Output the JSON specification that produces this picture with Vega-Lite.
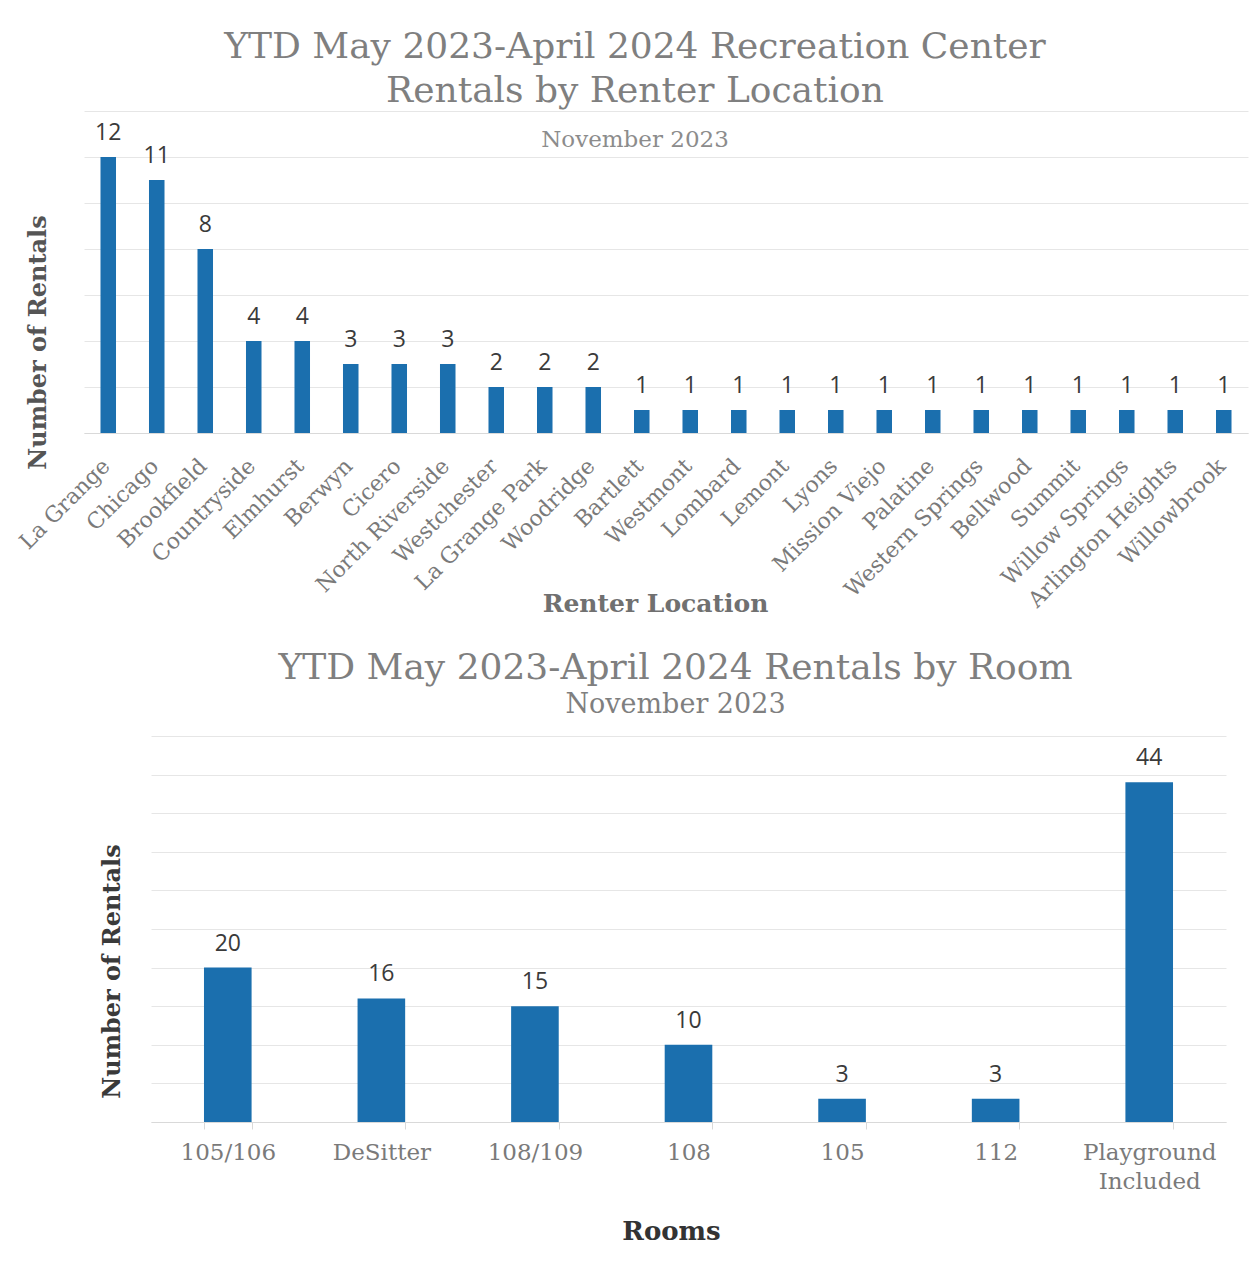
{
  "$schema": "https://vega.github.io/schema/vega-lite/v6.json",
  "padding": {"left": 15, "top": 29, "right": 5, "bottom": 5},
  "bounds": "flush",
  "spacing": 303,
  "config": {
    "view": {"stroke": null},
    "font": "DejaVu Serif",
    "axis": {"gridColor": "#e6e6e6", "domainColor": "#d9d9d9"}
  },
  "vconcat": [
    {
      "width": 1164,
      "height": 322,
      "title": {
        "text": ["YTD May 2023-April 2024 Recreation Center", "Rentals by Renter Location"],
        "subtitle": "November 2023",
        "font": "DejaVu Serif",
        "fontSize": 36,
        "fontWeight": "normal",
        "color": "#7f7f7f",
        "lineHeight": 44,
        "subtitleFont": "DejaVu Serif",
        "subtitleFontSize": 23,
        "subtitleColor": "#8c8c8c",
        "subtitlePadding": 19,
        "anchor": "middle",
        "frame": "group",
        "dx": -31,
        "offset": -42
      },
      "data": {
        "values": [
          {"location": "La Grange", "rentals": 12},
          {"location": "Chicago", "rentals": 11},
          {"location": "Brookfield", "rentals": 8},
          {"location": "Countryside", "rentals": 4},
          {"location": "Elmhurst", "rentals": 4},
          {"location": "Berwyn", "rentals": 3},
          {"location": "Cicero", "rentals": 3},
          {"location": "North Riverside", "rentals": 3},
          {"location": "Westchester", "rentals": 2},
          {"location": "La Grange Park", "rentals": 2},
          {"location": "Woodridge", "rentals": 2},
          {"location": "Bartlett", "rentals": 1},
          {"location": "Westmont", "rentals": 1},
          {"location": "Lombard", "rentals": 1},
          {"location": "Lemont", "rentals": 1},
          {"location": "Lyons", "rentals": 1},
          {"location": "Mission Viejo", "rentals": 1},
          {"location": "Palatine", "rentals": 1},
          {"location": "Western Springs", "rentals": 1},
          {"location": "Bellwood", "rentals": 1},
          {"location": "Summit", "rentals": 1},
          {"location": "Willow Springs", "rentals": 1},
          {"location": "Arlington Heights", "rentals": 1},
          {"location": "Willowbrook", "rentals": 1}
        ]
      },
      "encoding": {
        "x": {
          "field": "location", "type": "nominal", "sort": null,
          "scale": {"paddingInner": 0.68, "paddingOuter": 0.34},
          "axis": {
            "title": "Renter Location",
            "labelAngle": -45,
            "labelAlign": "right",
            "labelBaseline": "top",
            "labelFont": "DejaVu Serif",
            "labelFontSize": 22,
            "labelColor": "#7a7a7a",
            "labelPadding": 22,
            "labelOffset": -9,
            "labelLimit": 400,
            "ticks": false,
            "domainColor": "#d9d9d9",
            "titleFont": "DejaVu Serif",
            "titleFontSize": 25,
            "titleFontWeight": "bold",
            "titleColor": "#707070",
            "titleX": 571,
            "titleY": 170,
            "titleAlign": "center",
            "titleBaseline": "middle"
          }
        },
        "y": {
          "field": "rentals", "type": "quantitative",
          "scale": {"domain": [0, 14]},
          "axis": {
            "values": [0, 2, 4, 6, 8, 10, 12, 14],
            "labels": false, "ticks": false, "domain": false,
            "title": "Number of Rentals",
            "titleFont": "DejaVu Serif",
            "titleFontSize": 24,
            "titleFontWeight": "bold",
            "titleColor": "#555555",
            "titleAngle": -90,
            "titleX": -46,
            "titleY": 231,
            "titleAlign": "center",
            "titleBaseline": "middle"
          }
        }
      },
      "layer": [
        {"mark": {"type": "bar", "color": "#1b6fae"}},
        {
          "mark": {"type": "text", "font": "Open Sans", "fontSize": 23, "color": "#3a3a3a", "baseline": "alphabetic", "dy": -17},
          "encoding": {"text": {"field": "rentals", "type": "quantitative"}}
        }
      ]
    },
    {
      "bounds": "flush",
      "spacing": 0,
      "hconcat": [
        {
          "width": 67,
          "height": 386,
          "data": {"values": []},
          "mark": "rect",
          "encoding": {}
        },
        {
          "width": 1075,
          "height": 386,
          "title": {
            "text": "YTD May 2023-April 2024 Rentals by Room",
            "subtitle": "November 2023",
            "font": "DejaVu Serif",
            "fontSize": 36,
            "fontWeight": "normal",
            "color": "#7f7f7f",
            "subtitleFont": "DejaVu Serif",
            "subtitleFontSize": 27,
            "subtitleColor": "#7f7f7f",
            "subtitlePadding": 5,
            "anchor": "middle",
            "frame": "group",
            "dx": -13,
            "offset": 17
          },
          "data": {
            "values": [
              {"room": "105/106", "rentals": 20},
              {"room": "DeSitter", "rentals": 16},
              {"room": "108/109", "rentals": 15},
              {"room": "108", "rentals": 10},
              {"room": "105", "rentals": 3},
              {"room": "112", "rentals": 3},
              {"room": "Playground Included", "rentals": 44}
            ]
          },
          "encoding": {
            "x": {
              "field": "room", "type": "nominal", "sort": null,
              "scale": {"paddingInner": 0.69, "paddingOuter": 0.345},
              "axis": {
                "title": "Rooms",
                "labelAngle": 0,
                "labelExpr": "datum.label == 'Playground Included' ? ['Playground', 'Included'] : datum.label",
                "labelLineHeight": 29,
                "labelFont": "DejaVu Serif",
                "labelFontSize": 23,
                "labelColor": "#7a7a7a",
                "labelPadding": 12,
                "ticks": true,
                "tickBand": "extent",
                "tickSize": 7,
                "tickColor": "#d9d9d9",
                "domainColor": "#d9d9d9",
                "titleFont": "DejaVu Serif",
                "titleFontSize": 26,
                "titleFontWeight": "bold",
                "titleColor": "#333333",
                "titleX": 520,
                "titleY": 109,
                "titleAlign": "center",
                "titleBaseline": "middle"
              }
            },
            "y": {
              "field": "rentals", "type": "quantitative",
              "scale": {"domain": [0, 50]},
              "axis": {
                "values": [0, 5, 10, 15, 20, 25, 30, 35, 40, 45, 50],
                "labels": false, "ticks": false, "domain": false,
                "title": "Number of Rentals",
                "titleFont": "DejaVu Serif",
                "titleFontSize": 24,
                "titleFontWeight": "bold",
                "titleColor": "#3a3a3a",
                "titleAngle": -90,
                "titleX": -39,
                "titleY": 235,
                "titleAlign": "center",
                "titleBaseline": "middle"
              }
            }
          },
          "layer": [
            {"mark": {"type": "bar", "color": "#1b6fae"}},
            {
              "mark": {"type": "text", "font": "Open Sans", "fontSize": 23, "color": "#3a3a3a", "baseline": "alphabetic", "dy": -17},
              "encoding": {"text": {"field": "rentals", "type": "quantitative"}}
            }
          ]
        }
      ]
    }
  ]
}
